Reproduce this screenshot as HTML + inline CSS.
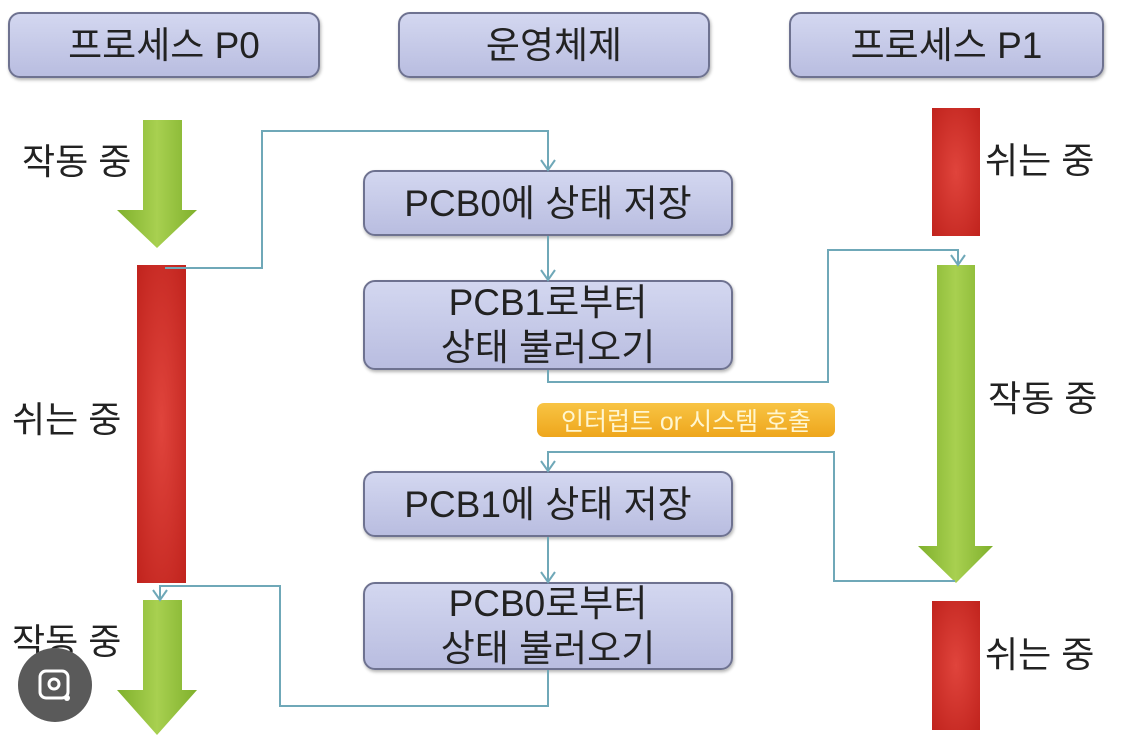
<!DOCTYPE html>
<html><head><meta charset="utf-8"><style>
html,body{margin:0;padding:0;background:#fff;}
body{width:1126px;height:742px;position:relative;overflow:hidden;font-family:"Liberation Sans","Noto Sans CJK KR",sans-serif;}
.hb{position:absolute;border:2px solid #6e7290;border-radius:12px;background:linear-gradient(#d3d7f0,#b9bde0);box-shadow:1px 2px 3px rgba(0,0,0,.3);display:flex;align-items:center;justify-content:center;font-size:37px;color:#222;box-sizing:border-box;text-align:center;line-height:45px;}
.lbl{position:absolute;font-size:36px;color:#222;white-space:nowrap;line-height:40px;}
.red{position:absolute;background:radial-gradient(ellipse at center,#e0443c,#c0231d);}
</style></head><body>
<div class="hb" style="left:8px;top:12px;width:312px;height:66px;">프로세스 P0</div>
<div class="hb" style="left:398px;top:12px;width:312px;height:66px;">운영체제</div>
<div class="hb" style="left:789px;top:12px;width:315px;height:66px;">프로세스 P1</div>

<div class="hb" style="left:363px;top:170px;width:370px;height:66px;">PCB0에 상태 저장</div>
<div class="hb" style="left:363px;top:280px;width:370px;height:90px;">PCB1로부터<br>상태 불러오기</div>
<div class="hb" style="left:363px;top:471px;width:370px;height:66px;">PCB1에 상태 저장</div>
<div class="hb" style="left:363px;top:582px;width:370px;height:88px;">PCB0로부터<br>상태 불러오기</div>

<div style="position:absolute;left:537px;top:403px;width:298px;height:34px;border-radius:7px;background:linear-gradient(#f8c444,#eea61c);color:#fff6d0;font-size:25px;display:flex;align-items:center;justify-content:center;">인터럽트 or 시스템 호출</div>

<div class="red" style="left:137px;top:265px;width:49px;height:318px;"></div>
<div class="red" style="left:932px;top:108px;width:48px;height:128px;"></div>
<div class="red" style="left:932px;top:601px;width:48px;height:129px;"></div>

<svg width="1126" height="742" style="position:absolute;left:0;top:0">
<defs><linearGradient id="g" x1="0" x2="1"><stop offset="0" stop-color="#7fb02c"/><stop offset=".5" stop-color="#a8d050"/><stop offset="1" stop-color="#7fb02c"/></linearGradient></defs>
<polygon points="143,120 182,120 182,210 197,210 157,248 117,210 143,210" fill="url(#g)"/>
<polygon points="143,600 182,600 182,690 197,690 157,735 117,690 143,690" fill="url(#g)"/>
<polygon points="937,265 975,265 975,546 993,546 956,583 918,546 937,546" fill="url(#g)"/>
<g fill="none" stroke="#6fa8b8" stroke-width="2">
<polyline points="165,268 262,268 262,131 548,131 548,170"/>
<polyline points="548,236 548,280"/>
<polyline points="548,370 548,382 828,382 828,250 958,250 958,265"/>
<polyline points="955,581 834,581 834,452 548,452 548,471"/>
<polyline points="548,537 548,582"/>
<polyline points="548,670 548,706 280,706 280,586 160,586 160,600"/>
<polyline points="541,160 548,170 555,160"/>
<polyline points="541,270 548,280 555,270"/>
<polyline points="951,255 958,265 965,255"/>
<polyline points="541,461 548,471 555,461"/>
<polyline points="541,572 548,582 555,572"/>
<polyline points="153,590 160,600 167,590"/>
</g>
</svg>

<div class="lbl" style="left:22px;top:142px;">작동 중</div>
<div class="lbl" style="left:12px;top:400px;">쉬는 중</div>
<div class="lbl" style="left:12px;top:622px;">작동 중</div>
<div class="lbl" style="left:985px;top:141px;">쉬는 중</div>
<div class="lbl" style="left:988px;top:379px;">작동 중</div>
<div class="lbl" style="left:985px;top:635px;">쉬는 중</div>

<svg width="1126" height="742" style="position:absolute;left:0;top:0">
<circle cx="55" cy="685" r="37" fill="#5a5a5a"/>
<rect x="40" y="671" width="28" height="27" rx="6" fill="none" stroke="#fff" stroke-width="3"/>
<circle cx="54" cy="684" r="5" fill="none" stroke="#fff" stroke-width="3"/>
<circle cx="67" cy="698" r="3" fill="#fff"/>
</svg>
</body></html>
